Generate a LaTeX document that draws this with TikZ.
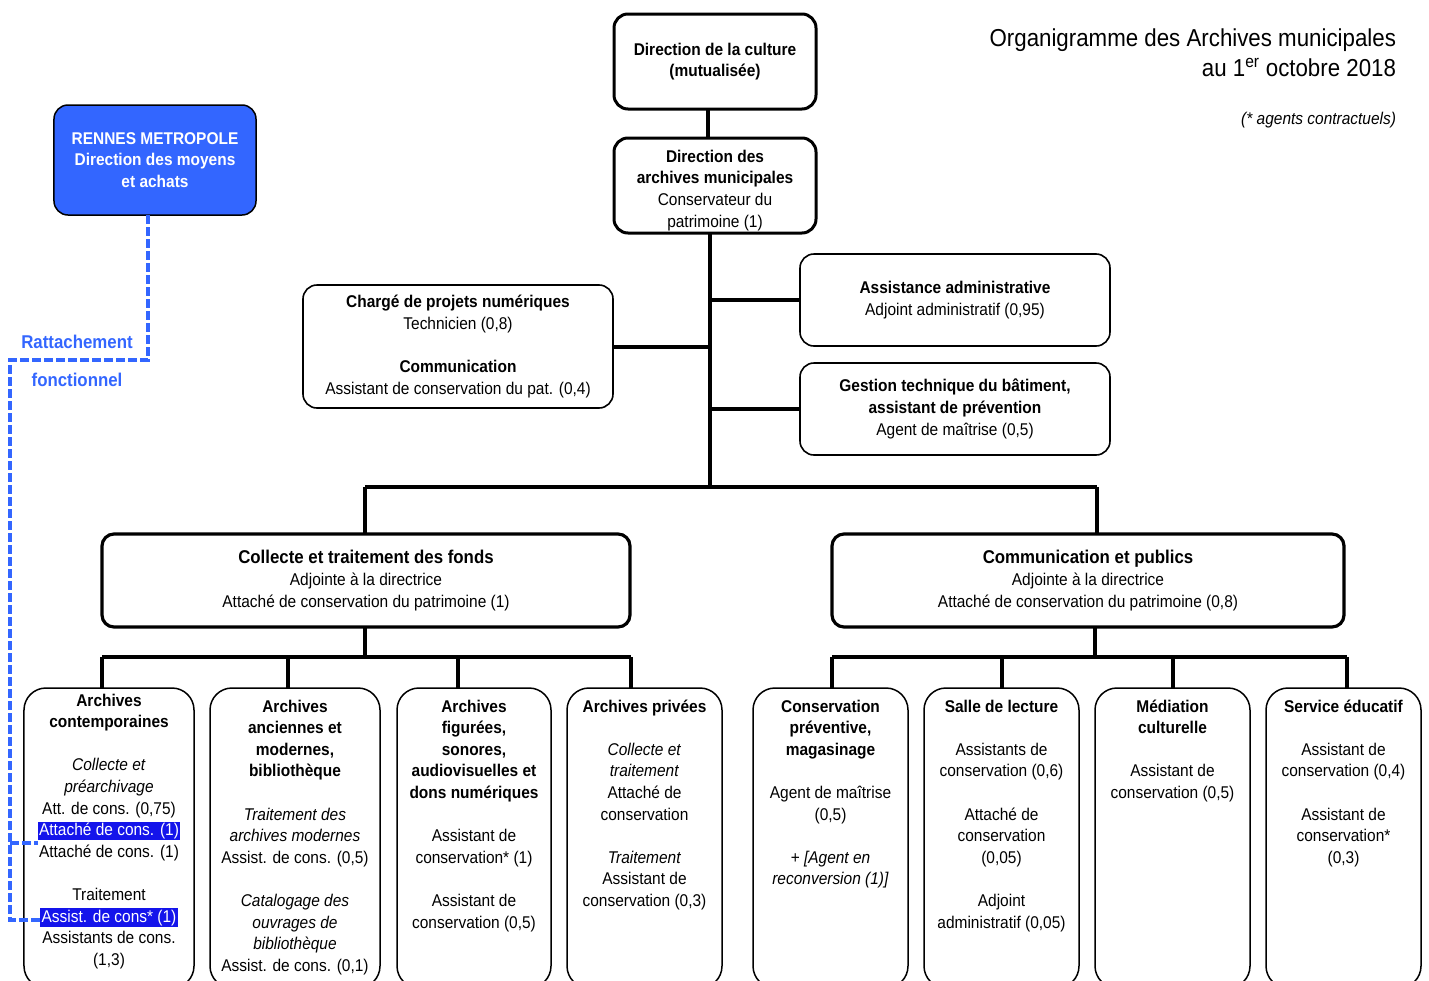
\documentclass[tikz,border=0pt]{standalone}
\usepackage{fontspec}
\setmainfont[FakeStretch=0.91]{Liberation Sans}
\definecolor{rmblue}{RGB}{51,102,255}
\definecolor{hlblue}{RGB}{20,20,235}
\newcommand{\fst}{\rule{0pt}{14bp}}
\newcommand{\hl}[1]{{\setlength{\fboxsep}{1.2bp}\colorbox{hlblue}{\textcolor{white}{#1}}}}
\newcommand{\skipline}{\\[21.6bp]}
\begin{document}
\begin{tikzpicture}[x=1bp,y=-1bp,
  every node/.style={inner sep=0pt,outer sep=0pt},
  basefont/.style={font=\fontsize{17bp}{21.6bp}\selectfont},
  txt/.style={basefont,align=center},
  topbox/.style={draw,line width=3bp,rounded corners=14bp,align=center,basefont,minimum width=202bp,minimum height=95bp},
  midbox/.style={draw,line width=1.6bp,rounded corners=14bp,align=center,basefont,minimum width=310bp},
  bigbox/.style={draw,line width=3.2bp,rounded corners=12bp,align=center,basefont,minimum height=93bp},
  botbox/.style={draw,line width=1.5bp,rounded corners=22bp,minimum height=300bp},
  rmbox/.style={draw=black,line width=1.5bp,fill=rmblue,text=white,rounded corners=14bp,align=center,basefont,minimum width=202bp,minimum height=110bp},
  conn/.style={line width=4bp},
  rmdash/.style={draw=rmblue,line width=3.6bp,dash pattern=on 9bp off 3bp},
  rmlabel/.style={text=rmblue,font=\fontsize{18.5bp}{22bp}\selectfont\bfseries}
]
\useasboundingbox (0,0) rectangle (1429,980);
\clip (0,0) rectangle (1429,980);

% title
\node[anchor=north east,align=right,font=\fontsize{24.5bp}{30.5bp}\selectfont] (title) at (1396,26)
  {\rule{0pt}{20bp}Organigramme des Archives municipales\\ au 1\textsuperscript{er} octobre 2018};
\node[anchor=east,basefont,font=\fontsize{17bp}{21.6bp}\selectfont\itshape] (note) at (1396,120) {(* agents contractuels)};

% top boxes
\node[topbox] (cult) at (715,61.5) {\textbf{Direction de la culture}\\ \textbf{(mutualisée)}};
\node[topbox] (dir) at (715,185.5) {\rule{0pt}{22bp}\textbf{Direction des}\\ \textbf{archives municipales}\\ Conservateur du\\ patrimoine (1)};

\node[midbox,minimum height=92bp] (assist) at (955,300) {\textbf{Assistance administrative}\\ Adjoint administratif (0,95)};
\node[midbox,minimum height=92bp] (gest) at (955,409) {\textbf{Gestion technique du bâtiment,}\\ \textbf{assistant de prévention}\\ Agent de maîtrise (0,5)};
\node[midbox,minimum height=123bp] (charge) at (458,346.5) {\textbf{Chargé de projets numériques}\\ Technicien (0,8)\skipline \textbf{Communication}\\ Assistant de conservation du pat. (0,4)};

\node[rmbox] (rm) at (155,160) {\textbf{RENNES METROPOLE}\\ \textbf{Direction des moyens}\\ \textbf{et achats}};

% big boxes
\node[bigbox,minimum width=528bp] (cf) at (366,580.5) {{\fontsize{18.5bp}{22bp}\selectfont\textbf{Collecte et traitement des fonds}}\\ Adjointe à la directrice\\ Attaché de conservation du patrimoine (1)};
\node[bigbox,minimum width=512bp] (cp) at (1088,580.5) {{\fontsize{18.5bp}{22bp}\selectfont\textbf{Communication et publics}}\\ Adjointe à la directrice\\ Attaché de conservation du patrimoine (0,8)};

% bottom boxes
\node[botbox,minimum width=170bp] (b1) at (109,838) {};
\node[botbox,minimum width=170bp] (b2) at (295,838) {};
\node[botbox,minimum width=154bp] (b3) at (474,838) {};
\node[botbox,minimum width=155bp] (b4) at (644.5,838) {};
\node[botbox,minimum width=155bp] (b5) at (830.5,838) {};
\node[botbox,minimum width=155bp] (b6) at (1001.5,838) {};
\node[botbox,minimum width=155bp] (b7) at (1172.5,838) {};
\node[botbox,minimum width=155bp] (b8) at (1343.5,838) {};

\node[txt,anchor=north] (t1) at (109,692) {\fst\textbf{Archives}\\ \textbf{contemporaines}\skipline \textit{Collecte et}\\ \textit{préarchivage}\\ Att. de cons. (0,75)\\ \hl{Attaché de cons. (1)}\\ Attaché de cons. (1)\skipline Traitement\\ \hl{Assist. de cons* (1)}\\ Assistants de cons.\\ (1,3)};
\node[txt,anchor=north] (t2) at (295,698) {\fst\textbf{Archives}\\ \textbf{anciennes et}\\ \textbf{modernes,}\\ \textbf{bibliothèque}\skipline \textit{Traitement des}\\ \textit{archives modernes}\\ Assist. de cons. (0,5)\skipline \textit{Catalogage des}\\ \textit{ouvrages de}\\ \textit{bibliothèque}\\ Assist. de cons. (0,1)};
\node[txt,anchor=north] (t3) at (474,698) {\fst\textbf{Archives}\\ \textbf{figurées,}\\ \textbf{sonores,}\\ \textbf{audiovisuelles et}\\ \textbf{dons numériques}\skipline Assistant de\\ conservation* (1)\skipline Assistant de\\ conservation (0,5)};
\node[txt,anchor=north] (t4) at (644.5,698) {\fst\textbf{Archives privées}\skipline \textit{Collecte et}\\ \textit{traitement}\\ Attaché de\\ conservation\skipline \textit{Traitement}\\ Assistant de\\ conservation (0,3)};
\node[txt,anchor=north] (t5) at (830.5,698) {\fst\textbf{Conservation}\\ \textbf{préventive,}\\ \textbf{magasinage}\skipline Agent de maîtrise\\ (0,5)\skipline \textit{+ [Agent en}\\ \textit{reconversion (1)]}};
\node[txt,anchor=north] (t6) at (1001.5,698) {\fst\textbf{Salle de lecture}\skipline Assistants de\\ conservation (0,6)\skipline Attaché de\\ conservation\\ (0,05)\skipline Adjoint\\ administratif (0,05)};
\node[txt,anchor=north] (t7) at (1172.5,698) {\fst\textbf{Médiation}\\ \textbf{culturelle}\skipline Assistant de\\ conservation (0,5)};
\node[txt,anchor=north] (t8) at (1343.5,698) {\fst\textbf{Service éducatif}\skipline Assistant de\\ conservation (0,4)\skipline Assistant de\\ conservation*\\ (0,3)};

% coordinates
\coordinate (cx) at (708,0);
\coordinate (tr) at (710,487);
\coordinate (ub1) at (365,487);
\coordinate (ub2) at (1097,487);
\coordinate (lm) at (365,657);
\coordinate (la1) at (102,657);
\coordinate (la2) at (288,657);
\coordinate (la3) at (458,657);
\coordinate (la4) at (631,657);
\coordinate (rmid) at (1095,657);
\coordinate (ra1) at (832,657);
\coordinate (ra2) at (1002,657);
\coordinate (ra3) at (1173,657);
\coordinate (ra4) at (1347,657);

% connectors
\draw[conn] (cx |- cult.south) -- (cx |- dir.north);
\draw[conn] (tr |- dir.south) -- (tr);
\draw[conn] (tr |- assist.west) -- (assist.west);
\draw[conn] (tr |- gest.west) -- (gest.west);
\draw[conn] (charge.east) -- (tr |- charge.east);
\draw[conn] (ub1) -- (ub2);
\draw[conn] (ub1) -- (ub1 |- cf.north);
\draw[conn] (ub2) -- (ub2 |- cp.north);
\draw[conn] (lm |- cf.south) -- (lm);
\draw[conn] (la1) -- (la4);
\draw[conn] (la1) -- (la1 |- b1.north);
\draw[conn] (la2) -- (la2 |- b2.north);
\draw[conn] (la3) -- (la3 |- b3.north);
\draw[conn] (la4) -- (la4 |- b4.north);
\draw[conn] (rmid |- cp.south) -- (rmid);
\draw[conn] (ra1) -- (ra4);
\draw[conn] (ra1) -- (ra1 |- b5.north);
\draw[conn] (ra2) -- (ra2 |- b6.north);
\draw[conn] (ra3) -- (ra3 |- b7.north);
\draw[conn] (ra4) -- (ra4 |- b8.north);

% functional link
\coordinate (dx) at (148,360);
\coordinate (dy) at (10,360);
\coordinate (dz1) at (10,843);
\coordinate (dz2) at (10,920);
\coordinate (h1) at (38,843);
\coordinate (h2) at (40,920);
\draw[rmdash] (dx |- rm.south) -- (dx) -- (dy) -- (dz2) -- (h2);
\draw[rmdash] (dz1) -- (h1);
\node[rmlabel] (lab1) at (77,342) {Rattachement};
\node[rmlabel] (lab2) at (77,380) {fonctionnel};
\end{tikzpicture}
\end{document}
